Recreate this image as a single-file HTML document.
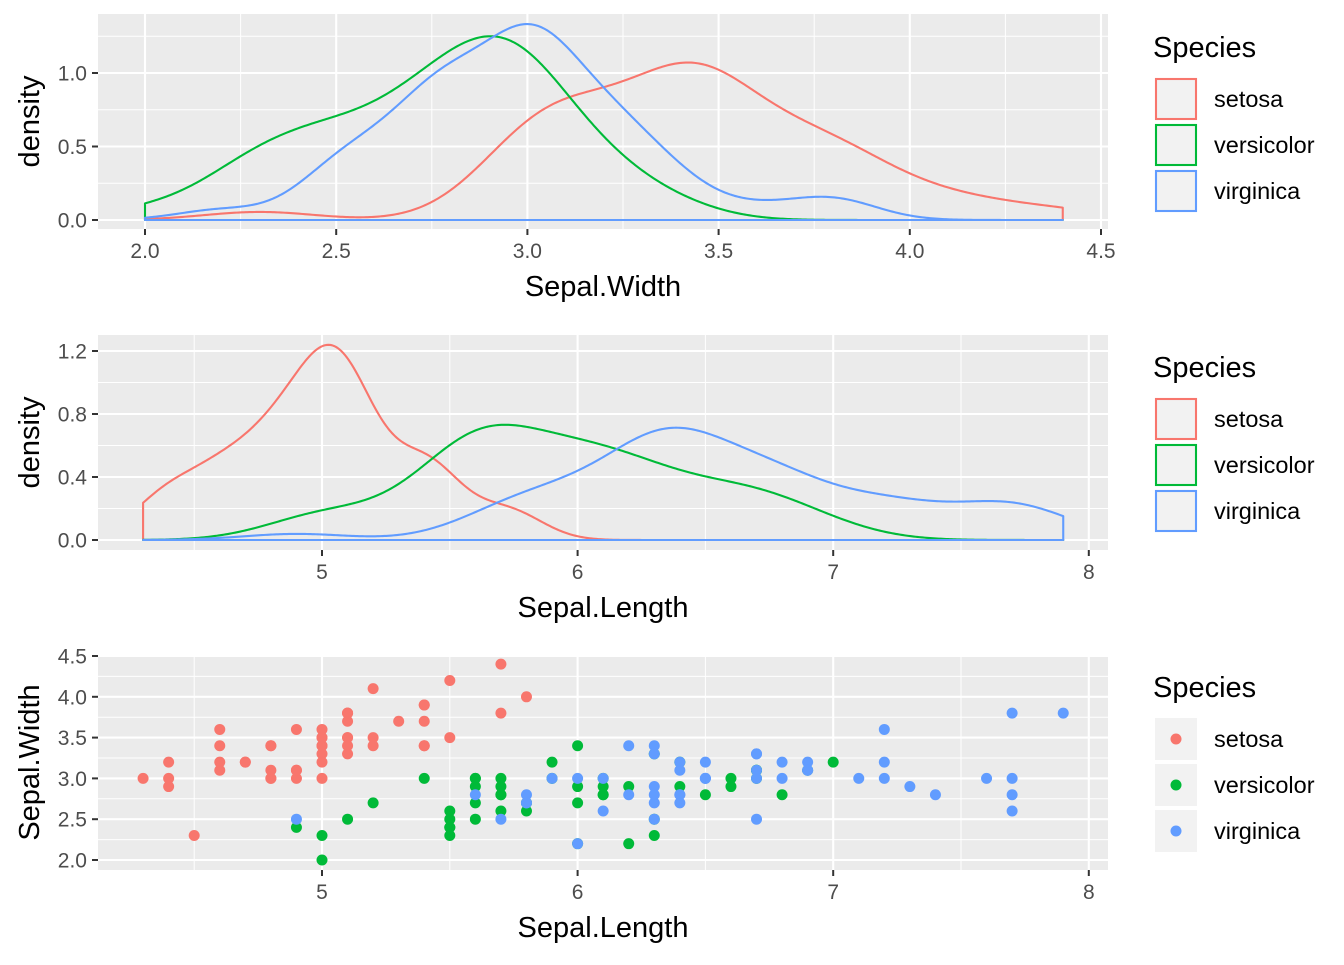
<!DOCTYPE html>
<html><head><meta charset="utf-8"><style>
html,body{margin:0;padding:0;background:#fff;}
svg text{font-family:"Liberation Sans",sans-serif;}
</style></head><body>
<svg id="chart" width="1344" height="960" xmlns="http://www.w3.org/2000/svg"></svg>
<script>
const species = ["setosa","versicolor","virginica"];
const colors = ["#F8766D","#00BA38","#619CFF"];
const sepalLength = [
[5.1,4.9,4.7,4.6,5.0,5.4,4.6,5.0,4.4,4.9,5.4,4.8,4.8,4.3,5.8,5.7,5.4,5.1,5.7,5.1,5.4,5.1,4.6,5.1,4.8,5.0,5.0,5.2,5.2,4.7,4.8,5.4,5.2,5.5,4.9,5.0,5.5,4.9,4.4,5.1,5.0,4.5,4.4,5.0,5.1,4.8,5.1,4.6,5.3,5.0],
[7.0,6.4,6.9,5.5,6.5,5.7,6.3,4.9,6.6,5.2,5.0,5.9,6.0,6.1,5.6,6.7,5.6,5.8,6.2,5.6,5.9,6.1,6.3,6.1,6.4,6.6,6.8,6.7,6.0,5.7,5.5,5.5,5.8,6.0,5.4,6.0,6.7,6.3,5.6,5.5,5.5,6.1,5.8,5.0,5.6,5.7,5.7,6.2,5.1,5.7],
[6.3,5.8,7.1,6.3,6.5,7.6,4.9,7.3,6.7,7.2,6.5,6.4,6.8,5.7,5.8,6.4,6.5,7.7,7.7,6.0,6.9,5.6,7.7,6.3,6.7,7.2,6.2,6.1,6.4,7.2,7.4,7.9,6.4,6.3,6.1,7.7,6.3,6.4,6.0,6.9,6.7,6.9,5.8,6.8,6.7,6.7,6.3,6.5,6.2,5.9]];
const sepalWidth = [
[3.5,3.0,3.2,3.1,3.6,3.9,3.4,3.4,2.9,3.1,3.7,3.4,3.0,3.0,4.0,4.4,3.9,3.5,3.8,3.8,3.4,3.7,3.6,3.3,3.4,3.0,3.4,3.5,3.4,3.2,3.1,3.4,4.1,4.2,3.1,3.2,3.5,3.6,3.0,3.4,3.5,2.3,3.2,3.5,3.8,3.0,3.8,3.2,3.7,3.3],
[3.2,3.2,3.1,2.3,2.8,2.8,3.3,2.4,2.9,2.7,2.0,3.0,2.2,2.9,2.9,3.1,3.0,2.7,2.2,2.5,3.2,2.8,2.5,2.8,2.9,3.0,2.8,3.0,2.9,2.6,2.4,2.4,2.7,2.7,3.0,3.4,3.1,2.3,3.0,2.5,2.6,3.0,2.6,2.3,2.7,3.0,2.9,2.9,2.5,2.8],
[3.3,2.7,3.0,2.9,3.0,3.0,2.5,2.9,2.5,3.6,3.2,2.7,3.0,2.5,2.8,3.2,3.0,3.8,2.6,2.2,3.2,2.8,2.8,2.7,3.3,3.2,2.8,3.0,2.8,3.0,2.8,3.8,2.8,2.8,2.6,3.0,3.4,3.1,3.0,3.1,3.1,3.1,2.7,3.2,3.3,3.0,2.5,3.0,3.4,3.0]];
const p1XTicks = ["2.0","2.5","3.0","3.5","4.0","4.5"];
const p1YTicks = ["0.0","0.5","1.0"];
const p2XTicks = ["5","6","7","8"];
const p2YTicks = ["0.0","0.4","0.8","1.2"];
const p3YTicks = ["2.0","2.5","3.0","3.5","4.0","4.5"];

const NS="http://www.w3.org/2000/svg";
const svg=document.getElementById('chart');
function mk(tag,attrs,parent){const e=document.createElementNS(NS,tag);for(const k in attrs)e.setAttribute(k,attrs[k]);(parent||svg).appendChild(e);return e;}

function quantile(s,p){const h=(s.length-1)*p,lo=Math.floor(h);return s[lo]+(h-lo)*((s[lo+1]??s[lo])-s[lo]);}
function bwNrd0(a){const n=a.length,m=a.reduce((x,y)=>x+y)/n;const sd=Math.sqrt(a.reduce((s,v)=>s+(v-m)*(v-m),0)/(n-1));const s=[...a].sort((x,y)=>x-y);const iqr=quantile(s,0.75)-quantile(s,0.25);let lo=Math.min(sd,iqr/1.34);if(!lo)lo=sd||1;return 0.9*lo*Math.pow(n,-0.2);}
function kde(a,lo,hi,n){const bw=bwNrd0(a),out=[];for(let i=0;i<n;i++){const x=lo+(hi-lo)*i/(n-1);let s=0;for(const v of a){const z=(x-v)/bw;s+=Math.exp(-0.5*z*z);}out.push([x,s/(a.length*bw*Math.sqrt(2*Math.PI))]);}return out;}

function panel(name,x0,x1,y0,y1,xs,ys,xMaj,xMin,yMaj,yMin,xLabels,yLabels,xTitle,yTitle){
  const g=mk('g',{});
  
  
  const bg=mk('rect',{x:x0,y:y0,width:x1-x0,height:y1-y0,fill:'#ebebeb'},g);
  
  
  xMin.forEach(v=>mk('line',{x1:xs(v),x2:xs(v),y1:y0,y2:y1,stroke:'#fff','stroke-width':1},g));
  yMin.forEach(v=>mk('line',{x1:x0,x2:x1,y1:ys(v),y2:ys(v),stroke:'#fff','stroke-width':1},g));
  xMaj.forEach(v=>mk('line',{x1:xs(v),x2:xs(v),y1:y0,y2:y1,stroke:'#fff','stroke-width':2.1},g));
  yMaj.forEach(v=>mk('line',{x1:x0,x2:x1,y1:ys(v),y2:ys(v),stroke:'#fff','stroke-width':2.1},g));
  xMaj.forEach((v,i)=>{mk('line',{x1:xs(v),x2:xs(v),y1:y1,y2:y1+6,stroke:'#333','stroke-width':2},g);
    const t=mk('text',{x:xs(v),y:y1+29,'text-anchor':'middle','font-size':21,fill:'#4d4d4d'},g);t.textContent=xLabels[i];
    
    });
  yMaj.forEach((v,i)=>{mk('line',{x1:x0-6,x2:x0,y1:ys(v),y2:ys(v),stroke:'#333','stroke-width':2},g);
    const t=mk('text',{x:x0-11,y:ys(v)+7.5,'text-anchor':'end','font-size':21,fill:'#4d4d4d'},g);t.textContent=yLabels[i];
    
    });
  const xt=mk('text',{x:(x0+x1)/2,y:y1+67,'text-anchor':'middle','font-size':29,fill:'#000'},g);xt.textContent=xTitle;
  
  
  const yt=mk('text',{x:0,y:0,'text-anchor':'middle','font-size':29,fill:'#000',transform:`translate(39,${(y0+y1)/2}) rotate(-90)`},g);yt.textContent=yTitle;
  
  
  return g;
}

function legend(y,kind){
  const g=mk('g',{});
  
  
  const t=mk('text',{x:1153,y:y+40,'font-size':29,fill:'#000'},g);t.textContent='Species';
  
  
  species.forEach((s,i)=>{
    const ky=y+61+i*46;
    const e=mk('g',{},g);
    
    
    if(kind==='line'){mk('rect',{x:1156,y:ky+1,width:40,height:40,fill:'#f2f2f2',stroke:colors[i],'stroke-width':2.1},e);}
    else{mk('rect',{x:1155,y:ky,width:42,height:42,fill:'#f2f2f2'},e);mk('circle',{cx:1176,cy:ky+21,r:5.5,fill:colors[i]},e);}
    const l=mk('text',{x:1214,y:ky+29,'font-size':23.5,fill:'#000'},e);l.textContent=s;
  });
}

function densityPanel(name,data,x0,x1,y0,y1,xs,ys){
  const all=data.flat();const lo=Math.min(...all),hi=Math.max(...all);
  data.forEach((a,i)=>{
    const pts=kde(a,lo,hi,512);
    let d=`M${xs(lo)},${ys(0)}`;pts.forEach(p=>d+=`L${xs(p[0]).toFixed(2)},${ys(p[1]).toFixed(2)}`);d+=`L${xs(hi)},${ys(0)}Z`;
    const p=mk('path',{d:d,fill:'none',stroke:colors[i],'stroke-width':2.1,'stroke-linejoin':'round'});
    
    
  });
}

// Panel 1
const xs1=v=>145+(v-2)*382.4, ys1=v=>220-v*147;
panel('density-sepal-width-panel',98,1108,14,229,xs1,ys1,[2,2.5,3,3.5,4,4.5],[2.25,2.75,3.25,3.75,4.25],[0,0.5,1],[0.25,0.75,1.25],p1XTicks,p1YTicks,'Sepal.Width','density');
densityPanel('p1',sepalWidth,98,1108,14,229,xs1,ys1);
legend(17,'line');

// Panel 2
const xs2=v=>322+(v-5)*255.6, ys2=v=>540-v*157.5;
panel('density-sepal-length-panel',98,1108,335,550,xs2,ys2,[5,6,7,8],[4.5,5.5,6.5,7.5],[0,0.4,0.8,1.2],[0.2,0.6,1.0],p2XTicks,p2YTicks,'Sepal.Length','density');
densityPanel('p2',sepalLength,98,1108,335,550,xs2,ys2);
legend(337,'line');

// Panel 3
const ys3=v=>860-(v-2)*81.6;
panel('scatter-panel',98,1108,655,870,xs2,ys3,[5,6,7,8],[4.5,5.5,6.5,7.5],[2,2.5,3,3.5,4,4.5],[2.25,2.75,3.25,3.75,4.25],p2XTicks,p3YTicks,'Sepal.Length','Sepal.Width');
species.forEach((s,i)=>{
  sepalLength[i].forEach((v,j)=>{
    const c=mk('circle',{cx:xs2(v),cy:ys3(sepalWidth[i][j]),r:5.5,fill:colors[i]});
    
    
  });
});
legend(657,'point');
</script>
</body></html>
